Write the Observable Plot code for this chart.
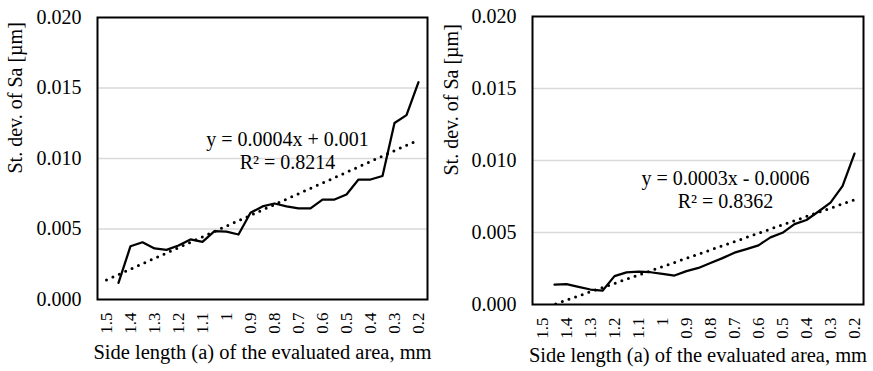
<!DOCTYPE html>
<html><head><meta charset="utf-8">
<script src="https://cdn.jsdelivr.net/npm/d3@7"></script>
<script src="https://cdn.jsdelivr.net/npm/@observablehq/plot@0.6"></script>
<style>
body{margin:0;background:#fff;}
#row{display:flex;width:873px;height:371px;}
svg, svg text{font-family:"Liberation Serif","Times New Roman",serif !important;}
</style></head><body><div id="row"></div>
<script>
// categories: side length (a) of the evaluated area, mm
const sideLengths = [1.5,1.45,1.4,1.35,1.3,1.25,1.2,1.15,1.1,1.05,1,0.95,0.9,0.85,0.8,0.75,0.7,0.65,0.6,0.55,0.5,0.45,0.4,0.35,0.3,0.25,0.2];
// st. dev. of Sa [µm], left chart (first category blank)
const leftValues = [null,0.00118,0.00378,0.00406,0.00362,0.00352,0.00383,0.00426,0.00409,0.00485,0.00482,0.00461,0.00615,0.00660,0.00681,0.00660,0.00646,0.00646,0.00709,0.00709,0.00745,0.00851,0.00851,0.00876,0.01252,0.01308,0.01541];
// right chart
const rightValues = [null,0.00138,0.00141,0.00122,0.00104,0.00096,0.00197,0.00223,0.00229,0.00224,0.00212,0.00201,0.00232,0.00254,0.00288,0.00322,0.00360,0.00385,0.00411,0.00466,0.00498,0.00558,0.00587,0.00646,0.00708,0.00822,0.01048];
const xTickValues = [1.5,1.4,1.3,1.2,1.1,1,0.9,0.8,0.7,0.6,0.5,0.4,0.3,0.2];
const xTickLabels = ["1.5","1.4","1.3","1.2","1.1","1","0.9","0.8","0.7","0.6","0.5","0.4","0.3","0.2"];
const yTicks = [0,0.005,0.010,0.015,0.020];
const yGrid = [0.005,0.010,0.015];
const leftEquation = ["y = 0.0004x + 0.001","R² = 0.8214"];
const rightEquation = ["y = 0.0003x - 0.0006","R² = 0.8362"];
const xTitle = "Side length (a) of the evaluated area, mm";
const yTitle = "St. dev. of Sa [µm]";

function trend(values){
  const pts = values.map((v,i)=>[i,v]).filter(d=>d[1]!=null);
  const mx = d3.mean(pts,d=>d[0]), my = d3.mean(pts,d=>d[1]);
  const b = d3.sum(pts,d=>(d[0]-mx)*(d[1]-my))/d3.sum(pts,d=>(d[0]-mx)**2);
  const a = my - b*mx;
  return sideLengths.map((s,i)=>({s, v: a+b*i}));
}

function panel(values, eq, o){
  const data = sideLengths.map((s,i)=>({s, v: values[i]}));
  return Plot.plot({
    width: o.width, height: 371,
    marginLeft: o.ml, marginRight: o.mr, marginTop: o.mt, marginBottom: o.mb,
    x: {type:"point", domain: sideLengths, padding: 0.5},
    y: {domain:[0,0.02]},
    style: {background:"#fff", color:"#000"},
    marks: [
      Plot.ruleY(yGrid, {stroke:"#d9d9d9", strokeWidth:1.5}),
      Plot.line(trend(values), {x:"s", y:"v", stroke:"#000", strokeWidth:3, strokeDasharray:"0,7", strokeLinecap:"round", clip:true}),
      Plot.line(data, {x:"s", y:"v", stroke:"#000", strokeWidth:2.25, strokeLinejoin:"round", defined: d=>d.v!=null}),
      Plot.frame({stroke:"#000", strokeWidth:2}),
      Plot.axisY({ticks: yTicks, tickFormat: d3.format(".3f"), tickSize:0, tickPadding:16, fontSize:20, label:null}),
      Plot.axisX({ticks: xTickValues, tickFormat: d=>xTickLabels[xTickValues.indexOf(d)], tickRotate:-90, tickSize:0, tickPadding:13, fontSize:17, label:null}),
      Plot.text([{x:0.75, y:o.eqY, t:eq.join("\n")}], {x:"x", y:"y", text:"t", fontSize:20, lineHeight:1.15, dx:o.eqDx}),
      Plot.text([yTitle], {frameAnchor:"left", rotate:-90, dx:o.ytDx, dy:15, fontSize:20, text:d=>d}),
      Plot.text([xTitle], {frameAnchor:"bottom", dy:o.xtDy, fontSize:20.5, text:d=>d})
    ]
  });
}

const row = document.getElementById("row");
row.append(panel(leftValues, leftEquation, {width:436, ml:97, mr:9, mt:17, mb:72, eqY:0.0106, eqDx:1, ytDx:-81.5, xtDy:59}));
row.append(panel(rightValues, rightEquation, {width:437, ml:96, mr:10, mt:16, mb:67, eqY:0.008025, eqDx:3, ytDx:-80.5, xtDy:57}));
</script></body></html>
